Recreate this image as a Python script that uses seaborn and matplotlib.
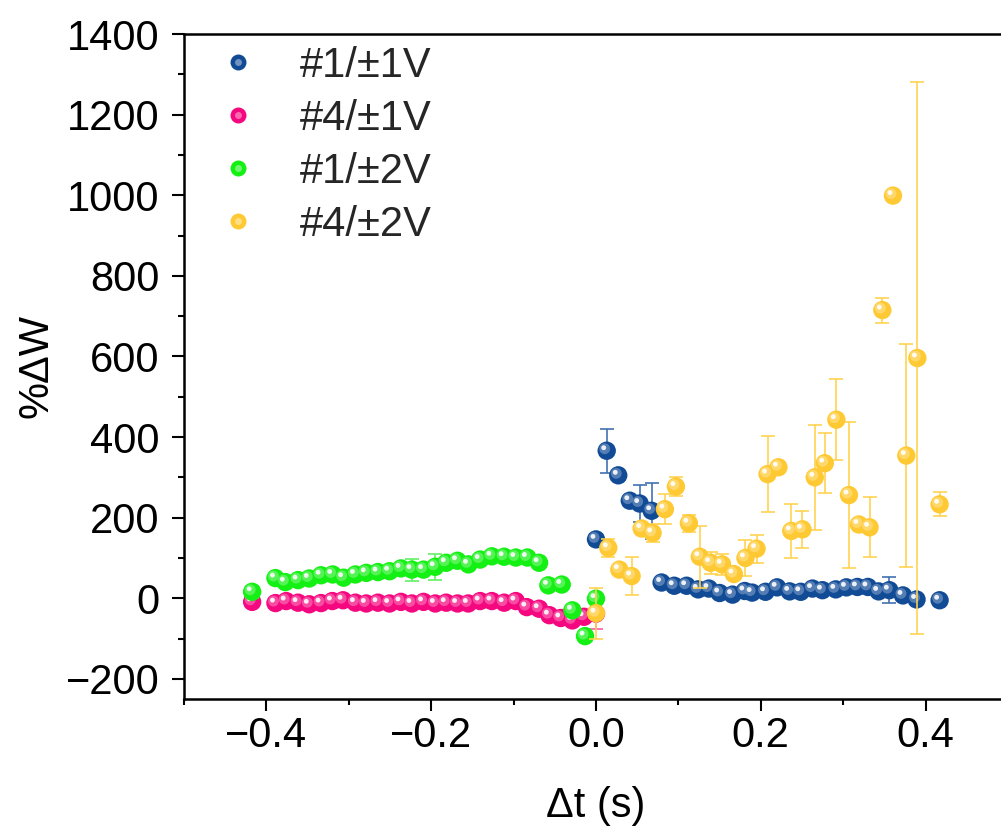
import numpy as np
import pandas as pd
import matplotlib
matplotlib.use("Agg")
import matplotlib.pyplot as plt
import seaborn as sns
from matplotlib.lines import Line2D
from matplotlib.legend_handler import HandlerTuple
from matplotlib.transforms import ScaledTranslation
from matplotlib.ticker import MultipleLocator
from matplotlib.colors import to_rgb

# ---- data: %ΔW versus spike-timing difference Δt ----
labels = ["#1/±1V", "#4/±1V", "#1/±2V", "#4/±2V"]
colors = ["#114b96", "#f5077f", "#14f014", "#ffc933"]
err_colors = ["#3f6fae", "#f75aa8", "#60f060", "#ffd24d"]

blue_x = [0.0, 0.013, 0.027, 0.041, 0.053, 0.0675, 0.0796, 0.0949, 0.110, 0.124,
          0.137, 0.150, 0.1657, 0.1806, 0.1895, 0.2057, 0.2198, 0.235, 0.2485, 0.2627,
          0.2748, 0.291, 0.3039, 0.3172, 0.330, 0.343, 0.356, 0.3725, 0.389, 0.417]
blue_y = [146, 366, 305, 242, 235, 217, 39, 31, 31, 22,
          24, 13, 9, 18, 14, 16, 27, 17, 16, 24,
          20, 22, 27, 28, 28, 17, 20, 7, -3, -5]
blue_err = [13, 55, 5, 8, 47, 70, 12, 5, 5, 5,
            5, 5, 5, 5, 5, 8, 5, 5, 5, 5,
            5, 5, 5, 5, 5, 5, 33, 5, 3, 3]

pink_x = [-0.4173, -0.389, -0.376, -0.3616, -0.348, -0.3337, -0.320, -0.307, -0.292, -0.2788,
          -0.2646, -0.2505, -0.2367, -0.2234, -0.2093, -0.195, -0.1818, -0.168, -0.155, -0.1406,
          -0.1264, -0.1115, -0.0973, -0.084, -0.069, -0.0566, -0.0428, -0.0287, -0.0145, 0.0]
pink_y = [-9, -12, -7, -11, -15, -12, -7, -5, -11, -13,
          -11, -13, -9, -13, -9, -13, -11, -13, -13, -7,
          -7, -11, -7, -22, -26, -42, -49, -55, -46, -38]
pink_err = [4, 4, 4, 4, 4, 4, 4, 4, 4, 4,
            4, 4, 4, 4, 4, 4, 4, 4, 4, 4,
            4, 4, 4, 4, 4, 4, 4, 4, 4, 38]

green_x = [-0.4173, -0.389, -0.377, -0.3616, -0.348, -0.3337, -0.3196, -0.3063, -0.292, -0.2788,
           -0.2646, -0.2505, -0.2367, -0.2234, -0.2093, -0.1952, -0.1818, -0.1681, -0.1548, -0.1406,
           -0.1264, -0.1115, -0.0973, -0.0833, -0.0691, -0.0578, -0.0416, -0.0287, -0.0133, 0.0]
green_y = [16, 50, 40, 45, 49, 57, 59, 51, 59, 63,
           65, 67, 74, 71, 71, 78, 88, 93, 84, 96,
           104, 103, 101, 101, 88, 32, 34, -30, -94, -1]
green_err = [15, 5, 5, 5, 5, 5, 5, 5, 5, 5,
             5, 5, 5, 27, 8, 33, 5, 5, 5, 8,
             13, 8, 8, 5, 5, 5, 5, 5, 5, 5]

yel_x = [0.0, 0.0149, 0.0283, 0.0432, 0.0554, 0.0687, 0.0836, 0.097, 0.1127, 0.126,
         0.139, 0.153, 0.1673, 0.1814, 0.1948, 0.2082, 0.2214, 0.237, 0.2505, 0.2655,
         0.2776, 0.2917, 0.307, 0.319, 0.332, 0.3475, 0.3604, 0.3766, 0.390, 0.417]
yel_y = [-37, 125, 71, 55, 173, 162, 221, 277, 186, 103,
         88, 84, 60, 100, 123, 308, 325, 167, 171, 300,
         335, 443, 256, 183, 176, 715, 999, 354, 596, 233]
yel_err = [63, 23, 5, 48, 5, 22, 38, 23, 21, 77,
           27, 26, 8, 45, 35, 95, 8, 67, 46, 130,
           75, 100, 181, 8, 74, 31, 0, 277, 685, 30]

xs = [blue_x, pink_x, green_x, yel_x]
ys = [blue_y, pink_y, green_y, yel_y]
errs = [blue_err, pink_err, green_err, yel_err]

df = pd.concat(
    [pd.DataFrame({"dt": x, "dw": y, "err": e, "series": lab})
     for x, y, e, lab in zip(xs, ys, errs, labels)],
    ignore_index=True,
)

# ---- style ----
sns.set_theme(style="ticks")
plt.rcParams["font.family"] = ["Liberation Sans", "DejaVu Sans"]
plt.rcParams["axes.linewidth"] = 1.8

FS = 30
fig = plt.figure(figsize=(10.01, 8.36), dpi=100)
ax = fig.add_axes([184 / 1001, 1 - 699 / 836, (1008 - 184) / 1001, (699 - 34) / 836])


def lighten(c, f):
    r, g, b = to_rgb(c)
    return (r + (1 - r) * f, g + (1 - g) * f, b + (1 - b) * f)


def px(dx, dy):
    return ax.transData + ScaledTranslation(dx / 100, dy / 100, fig.dpi_scale_trans)


MS = 175  # marker area in pt^2
for i, lab in enumerate(labels):
    sub = df[df["series"] == lab]
    ax.errorbar(sub["dt"], sub["dw"], yerr=sub["err"], fmt="none",
                ecolor=err_colors[i], elinewidth=1.3, capsize=5, capthick=1.3,
                alpha=0.9, zorder=2 + 2 * i)
    sns.scatterplot(data=sub, x="dt", y="dw", color=colors[i], s=MS,
                    edgecolor="none", linewidth=0, ax=ax, legend=False,
                    zorder=3 + 2 * i)
    # glossy shading on the spheres
    sns.scatterplot(data=sub, x="dt", y="dw", color=lighten(colors[i], 0.35), s=MS * 0.35,
                    edgecolor="none", linewidth=0, ax=ax, legend=False, alpha=0.8,
                    transform=px(-2, 2), zorder=3 + 2 * i)
    sns.scatterplot(data=sub, x="dt", y="dw", color="white", s=MS * 0.07,
                    edgecolor="none", linewidth=0, ax=ax, legend=False, alpha=0.9,
                    transform=px(-3, 3), zorder=3 + 2 * i)

ax.set_xlim(-0.5, 0.5)
ax.set_ylim(-250, 1400)
ax.xaxis.set_minor_locator(MultipleLocator(0.1))
ax.yaxis.set_minor_locator(MultipleLocator(100))
ax.set_xticks([-0.4, -0.2, 0.0, 0.2, 0.4])
ax.set_xticklabels(["\u22120.4", "\u22120.2", "0.0", "0.2", "0.4"])
ax.set_yticks(range(-200, 1401, 200))
ax.set_yticklabels([("\u2212" + str(abs(v))) if v < 0 else str(v) for v in range(-200, 1401, 200)])

ax.tick_params(axis="both", which="major", direction="out", length=8.5, width=1.5,
               labelsize=FS, color="black", labelcolor="black")
ax.tick_params(axis="x", which="major", pad=4)
ax.tick_params(axis="y", which="major", pad=9)
ax.tick_params(axis="both", which="minor", direction="out", length=4.5, width=1.5, color="black")
for sp in ax.spines.values():
    sp.set_color("black")
    sp.set_linewidth(1.8)

ax.set_xlabel("\u0394t (s)", fontsize=FS, color="black", labelpad=21)
ax.set_ylabel("%\u0394W", fontsize=FS, color="black", labelpad=7)

handles = []
for c in colors:
    base = Line2D([], [], linestyle="none", marker="o", markersize=11.5,
                  markerfacecolor=c, markeredgecolor="none")
    hi = Line2D([], [], linestyle="none", marker="o", markersize=5,
                markerfacecolor=lighten(c, 0.5), markeredgecolor="none", alpha=0.8)
    handles.append((base, hi))
ax.legend(handles, labels, handler_map={tuple: HandlerTuple(ndivide=1)},
          loc="upper left", bbox_to_anchor=((217 - 184) / 824, 0.982),
          frameon=False, fontsize=FS, handlelength=1.0, handletextpad=0.99,
          borderpad=0, borderaxespad=0, labelspacing=0.31)

fig.savefig("out.png", dpi=100, facecolor="white")
